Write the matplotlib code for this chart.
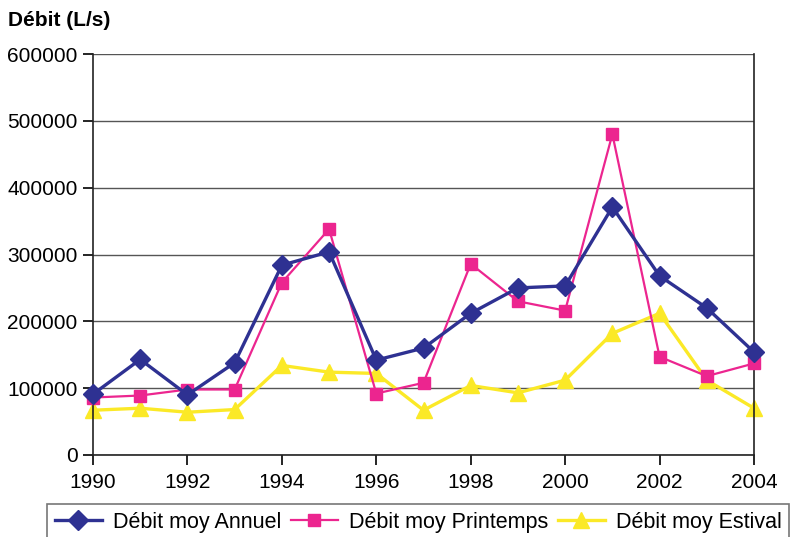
import matplotlib
matplotlib.use("Agg")
import matplotlib.pyplot as plt

plt.rcParams["font.family"] = ["Liberation Sans", "DejaVu Sans"]

years = list(range(1990, 2005))
annuel = [91000, 143000, 90000, 138000, 284000, 304000, 142000, 160000,
          212000, 250000, 253000, 371000, 268000, 220000, 154000]
printemps = [86000, 89000, 98000, 98000, 258000, 338000, 92000, 108000,
             286000, 230000, 216000, 480000, 147000, 118000, 137000]
estival = [67000, 70000, 64000, 68000, 134000, 124000, 122000, 67000,
           104000, 93000, 112000, 182000, 212000, 112000, 70000]
y_ticks = [0, 100000, 200000, 300000, 400000, 500000, 600000]
x_ticks = [1990, 1992, 1994, 1996, 1998, 2000, 2002, 2004]

BLUE = "#2e3192"
PINK = "#ec258f"
YELLOW = "#fbe927"

fig = plt.figure(figsize=(7.9, 5.37), dpi=100)
ax = fig.add_axes([93 / 790, 1 - 455 / 537, (754 - 93) / 790, (455 - 54) / 537])

ax.plot(years, annuel, color=BLUE, lw=2.4, marker="D", ms=10,
        label="Débit moy Annuel", zorder=4)
ax.plot(years, printemps, color=PINK, lw=1.6, marker="s", ms=8.5,
        label="Débit moy Printemps", zorder=3)
ax.plot(years, estival, color=YELLOW, lw=2.4, marker="^", ms=11,
        label="Débit moy Estival", zorder=2)

ax.set_xlim(1990, 2004)
ax.set_ylim(0, 600000)
ax.set_xticks(x_ticks)
ax.set_yticks(y_ticks)
ax.tick_params(labelsize=15, length=7, width=1.2, direction="out", pad=4)
ax.tick_params(axis="x", pad=6)
ax.yaxis.grid(True, color="#555555", lw=1.0)
ax.set_axisbelow(True)
for side in ("left", "bottom", "right"):
    ax.spines[side].set_color("#222222")
    ax.spines[side].set_linewidth(1.2)
ax.spines["top"].set_visible(False)
for line in ax.lines:
    line.set_clip_on(False)

fig.text(8 / 790, 1 - 20 / 537, "Débit (L/s)", fontsize=15,
         fontweight="bold", va="center", ha="left")

leg = fig.legend(loc="upper left", bbox_to_anchor=(47 / 790, 1 - 504 / 537),
                 ncol=3, fontsize=15.5, frameon=True, fancybox=False,
                 handlelength=2.2, handletextpad=0.5, columnspacing=0.45,
                 borderpad=0.35, borderaxespad=0)
leg.get_frame().set_edgecolor("#555555")
leg.get_frame().set_linewidth(1.2)

fig.savefig("out.png", dpi=100)
